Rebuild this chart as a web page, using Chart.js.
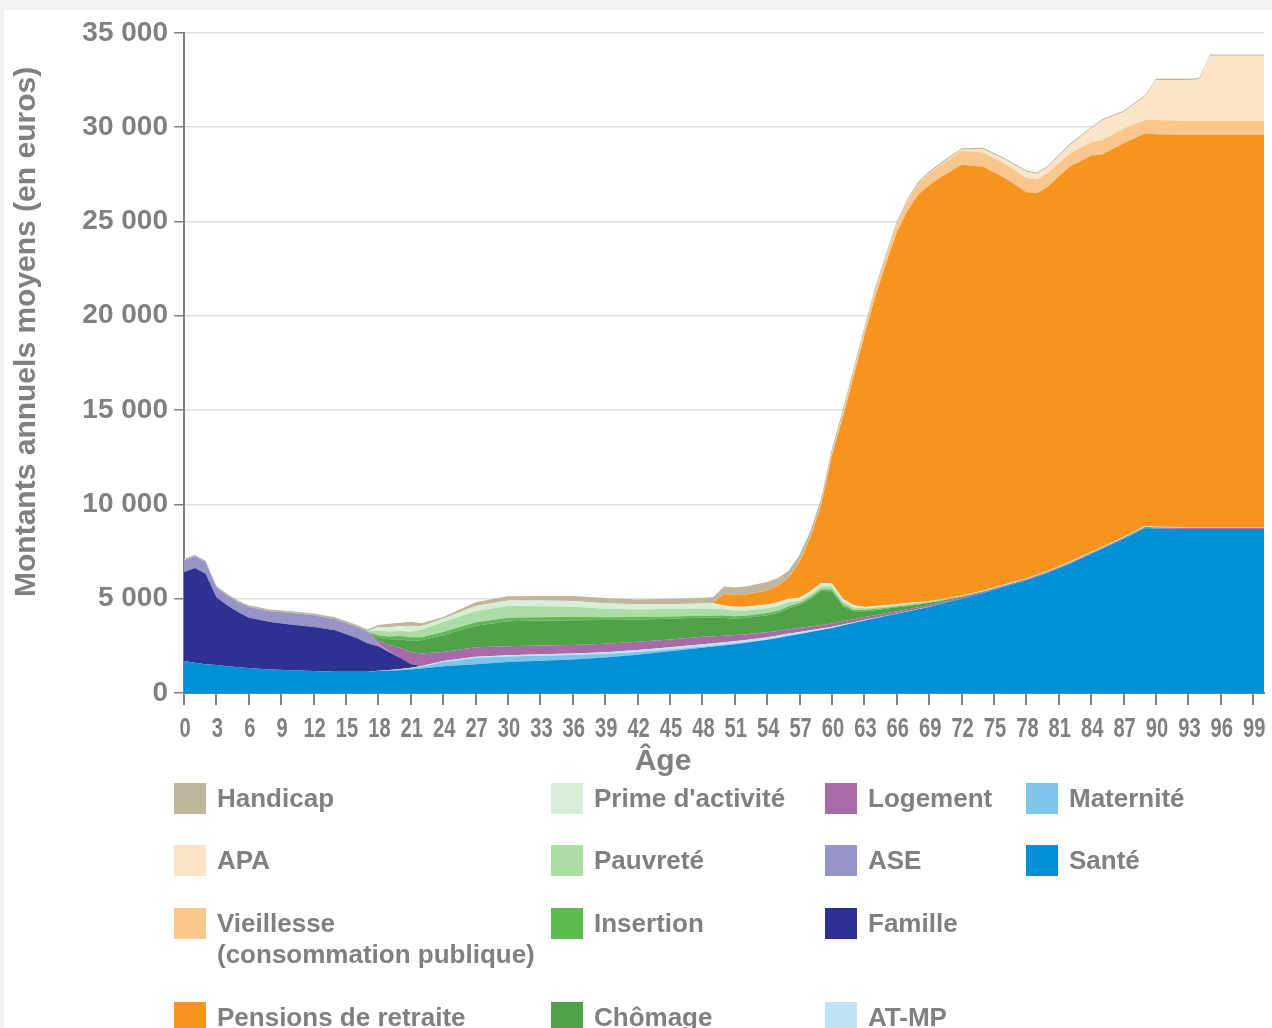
<!DOCTYPE html>
<html lang="fr">
<head>
<meta charset="utf-8">
<title>Montants annuels moyens par âge</title>
<script src="https://cdn.jsdelivr.net/npm/chart.js@4.4.1/dist/chart.umd.min.js"></script>
<style>
  html, body { margin: 0; padding: 0; }
  body { width: 1272px; height: 1028px; background: #f2f2f2; position: relative; overflow: hidden;
         font-family: "Liberation Sans", Arial, sans-serif; }
  #panel { position: absolute; left: 4px; top: 10px; right: 0; bottom: 0; background: #fff; }
  #myChart { position: absolute; left: 0; top: 0; }
  #legend { position: absolute; left: 170px; top: 773px; display: grid;
            grid-auto-flow: column; grid-template-rows: 62px 63px 94px 40px;
            grid-template-columns: 377px 274px 201px 200px; }
  .item { display: flex; align-items: flex-start; color: #808080; font-weight: bold;
          font-size: 26px; line-height: 31px; white-space: nowrap; }
  .sw { width: 32px; height: 31px; margin-right: 11px; flex: none; }
</style>
</head>
<body>
<div id="panel">
  <canvas id="myChart" width="1268" height="780"></canvas>
  <div id="legend"></div>
</div>
<script>
var ages = [0,1,2,3,4,5,6,8,10,12,14,16,17,18,19,20,21,22,24,27,30,33,36,39,42,45,48,
  49,50,51,52,54,55,56,57,58,59,60,61,62,63,64,65,66,67,68,69,70,
  72,74,76,78,79,80,82,84,85,87,89,90,93,94,95,100];

var xTicks = [0,3,6,9,12,15,18,21,24,27,30,33,36,39,42,45,48,51,54,57,60,63,66,69,72,75,78,81,84,87,90,93,96,99];
var yTicks = [0,5000,10000,15000,20000,25000,30000,35000];

// valeurs, une par âge (euros)
var sante = [1700,1600,1530,1480,1420,1370,1320, 1250,1200,1160,1130,1120,1120,
  1160,1180,1210,1250,1300, 1420,1530,1640,1710,1780,1880,2030,2210,2400,
  2460,2520,2590,2660,2820,2920,3030,3130,3240,3340,
  3450,3580,3710,3850,3960,4080,4200,4320,4440,4560,4700,
  5000,5300,5640,5970,6170,6370,6840,7370,7630,8170,8750, 8720,8700,8700,8700,8700];
var maternite = [0,0,0,0,0,0,0, 0,0,0,0,0,0,
  10,20,40,60,90, 230,330,300,270,230,190,150,100,70,
  60,50,40,30,20,15,10,5,0,0,
  0,0,0,0,0,0,0,0,0,0,0, 0,0,0,0,0,0,0,0,0,0,0, 0,0,0,0,0];
var atmp = [0,0,0,0,0,0,0, 0,0,0,0,0,0,
  10,15,20,30,40, 50,60,60,70,80,90,100,110,110,
  115,120,120,120,120,115,110,100,90,75,
  60,50,40,30,25,20,20,15,10,10,5, 0,0,0,0,0,0,0,0,0,0,0, 0,0,0,0,0];
var famille = [4700,5030,4790,3600,3230,2920,2670, 2510,2420,2340,2200,1800,1500,
  1300,950,600,200,0, 0,0,0,0,0,0,0,0,0,
  0,0,0,0,0,0,0,0,0,0,
  0,0,0,0,0,0,0,0,0,0,0, 0,0,0,0,0,0,0,0,0,0,0, 0,0,0,0,0];
var ase = [620,620,610,530,520,530,570, 580,620,620,580,580,650,
  150,30,0,0,0, 0,0,0,0,0,0,0,0,0,
  0,0,0,0,0,0,0,0,0,0,
  0,0,0,0,0,0,0,0,0,0,0, 0,0,0,0,0,0,0,0,0,0,0, 0,0,0,0,0];
var logement = [0,0,0,0,0,0,0, 0,0,0,0,0,0,
  150,350,530,640,670, 480,500,480,470,450,450,440,420,400,
  380,340,320,300,260,240,230,220,200,190,
  180,170,160,150,140,130,120,110,100,100,90,
  80,70,60,60,55,55,55,55,55,50,50, 50,50,50,50,50];
var chomage = [0,0,0,0,0,0,0, 0,0,0,0,0,0,
  150,300,450,580,700, 880,1150,1330,1320,1320,1260,1170,1100,1020,
  1000,950,880,860,900,950,1100,1210,1440,1800,
  1700,800,420,300,260,230,200,170,140,110,80,
  30,10,0,0,0,0,0,0,0,0,0, 0,0,0,0,0];
var insertion = [0,0,0,0,0,0,0, 0,0,0,0,0,0,
  120,150,170,200,150, 180,180,180,180,180,150,140,120,100,
  100,130,120,120,120,120,120,100,100,100,
  100,100,90,80,70,60,50,40,30,20,10,
  5,0,0,0,0,0,0,0,0,0,0, 0,0,0,0,0];
var pauvrete = [0,0,0,0,0,0,0, 0,0,0,0,0,0,
  250,260,270,290,400, 520,580,620,580,530,440,400,410,370,
  370,330,300,280,250,250,230,130,150,160,
  160,150,130,80,80,80,80,80,80,70,70,
  60,60,60,60,60,60,60,60,60,60,50, 50,50,50,50,50];
var prime = [0,0,0,0,0,0,0, 0,0,0,0,0,0,
  200,230,250,280,200, 180,280,300,310,310,300,270,230,270,
  270,200,200,200,200,200,170,160,170,170,
  150,150,100,70,60,50,40,30,20,10,5,
  0,0,0,0,0,0,0,0,0,0,0, 0,0,0,0,0];
var pensions = [0,0,0,0,0,0,0, 0,0,0,0,0,0,
  0,0,0,0,0, 0,0,0,0,0,0,0,0,0,
  0,610,610,650,750,870,1140,1900,2850,4150,
  6800,9600,12120,14390,16405,18120,19710,20810,21610,22040,22360,
  22825,22460,21540,20460,20215,20365,20945,21015,20805,20870,20830,
  20800,20780,20780,20780,20780];
var vieillesse = [0,0,0,0,0,0,0, 0,0,0,0,0,0,
  0,0,0,0,0, 0,0,0,0,0,0,0,0,0,
  0,0,0,0,0,0,0,30,50,80,
  150,200,250,300,350,400,450,500,550,600,650,
  750,760,760,750,740,730,700,700,750,780,700,
  760,760,760,760,760];
var apa = [0,0,0,0,0,0,0, 0,0,0,0,0,0,
  0,0,0,0,0, 0,0,0,0,0,0,0,0,0,
  0,0,0,0,0,0,0,0,0,0,
  0,0,0,0,0,0,10,15,20,30,40,
  60,170,220,330,290,300,430,720,1050,870,1250,
  2120,2160,2190,3440,3440];
var handicap = [80,80,80,80,80,90,90, 90,90,100,100,100,100,
  100,180,180,250,150, 90,200,220,230,260,280,260,300,310,
  320,400,410,420,440,420,350,350,300,250,
  230,200,180,150,150,130,120,110,100,100,90,
  70,70,70,70,70,70,70,70,70,70,70, 70,70,70,70,70];

// empilement du bas vers le haut
var series = [
  { label: 'Santé', data: sante, color: '#0090d7' },
  { label: 'Maternité', data: maternite, color: '#7ec5ea' },
  { label: 'AT-MP', data: atmp, color: '#bfe3f5' },
  { label: 'Famille', data: famille, color: '#2e3192' },
  { label: 'ASE', data: ase, color: '#9694c8' },
  { label: 'Logement', data: logement, color: '#a86aa8' },
  { label: 'Chômage', data: chomage, color: '#4fa247' },
  { label: 'Insertion', data: insertion, color: '#5fba52' },
  { label: 'Pauvreté', data: pauvrete, color: '#addca6' },
  { label: "Prime d'activité", data: prime, color: '#d7efd6' },
  { label: 'Pensions de retraite', data: pensions, color: '#f6941f' },
  { label: 'Vieillesse\n(consommation publique)', data: vieillesse, color: '#f9c68e' },
  { label: 'APA', data: apa, color: '#fde3c7' },
  { label: 'Handicap', data: handicap, color: '#c1b59c' }
];

var legendOrder = ['Handicap', 'APA', 'Vieillesse\n(consommation publique)', 'Pensions de retraite',
  "Prime d'activité", 'Pauvreté', 'Insertion', 'Chômage',
  'Logement', 'ASE', 'Famille', 'AT-MP', 'Maternité', 'Santé'];

var yTitle = 'Montants annuels moyens (en euros)';
var xTitle = 'Âge';
var grey = '#808080';
var boldFont = '"Liberation Sans", Arial, sans-serif';

function fmt(v) {
  return String(v).replace(/\B(?=(\d{3})+(?!\d))/g, ' ');
}

var datasets = series.map(function (s, i) {
  return {
    label: s.label,
    data: ages.map(function (a, j) { return { x: a, y: s.data[j] }; }),
    backgroundColor: s.color,
    borderWidth: 0,
    pointRadius: 0,
    tension: 0,
    fill: i === 0 ? 'origin' : '-1'
  };
});

// titres des axes et étiquettes d'âge (police étroite, comme l'original)
var axisTextPlugin = {
  id: 'axisText',
  afterDraw: function (chart) {
    var ctx = chart.ctx, area = chart.chartArea, xs = chart.scales.x;
    ctx.save();
    ctx.fillStyle = grey;

    ctx.font = 'bold 28px ' + boldFont;
    ctx.textAlign = 'center';
    ctx.textBaseline = 'alphabetic';
    xTicks.forEach(function (v) {
      ctx.save();
      ctx.translate(xs.getPixelForValue(v) + 1, area.bottom + 44);
      ctx.scale(0.72, 1);
      ctx.fillText(String(v), 0, 0);
      ctx.restore();
    });

    ctx.font = 'bold 30px ' + boldFont;
    ctx.textBaseline = 'middle';
    ctx.fillText(xTitle, area.left + 479, area.bottom + 69);

    ctx.translate(23, (area.top + area.bottom) / 2 - 31);
    ctx.rotate(-Math.PI / 2);
    ctx.fillText(yTitle, 0, 0);
    ctx.restore();
  }
};

var ctx = document.getElementById('myChart').getContext('2d');
var chart = new Chart(ctx, {
  type: 'line',
  data: { datasets: datasets },
  plugins: [axisTextPlugin],
  options: {
    responsive: false,
    animation: false,
    layout: { padding: { top: 20, right: 8, left: 0, bottom: 0 } },
    plugins: { legend: { display: false }, tooltip: { enabled: false } },
    elements: { line: { borderWidth: 0 } },
    scales: {
      x: {
        type: 'linear',
        min: 0,
        max: 100,
        afterBuildTicks: function (axis) {
          axis.ticks = xTicks.map(function (v) { return { value: v }; });
        },
        afterFit: function (axis) { axis.height = 97; },
        grid: { drawOnChartArea: false, drawTicks: true, tickLength: 12, color: grey, lineWidth: 2 },
        border: { color: grey, width: 2 },
        ticks: { display: false, autoSkip: false, maxRotation: 0 }
      },
      y: {
        stacked: true,
        min: 0,
        max: 35000,
        afterBuildTicks: function (axis) {
          axis.ticks = yTicks.map(function (v) { return { value: v }; });
        },
        afterFit: function (axis) { axis.width = 180; },
        grid: { color: '#dedede', lineWidth: 1.5, tickColor: grey, tickLength: 10, drawTicks: true },
        border: { color: grey, width: 2 },
        ticks: {
          padding: 6,
          color: grey,
          font: { family: boldFont, size: 28, weight: 'bold' },
          callback: function (v) { return fmt(v); }
        }
      }
    }
  }
});

// légende en colonnes, comme sur l'original
var legend = document.getElementById('legend');
legendOrder.forEach(function (name) {
  var s = series.filter(function (d) { return d.label === name; })[0];
  var item = document.createElement('div');
  item.className = 'item';
  var sw = document.createElement('span');
  sw.className = 'sw';
  sw.style.background = s.color;
  var txt = document.createElement('span');
  txt.innerHTML = s.label.replace('\n', '<br>');
  item.appendChild(sw);
  item.appendChild(txt);
  legend.appendChild(item);
});
</script>
</body>
</html>
